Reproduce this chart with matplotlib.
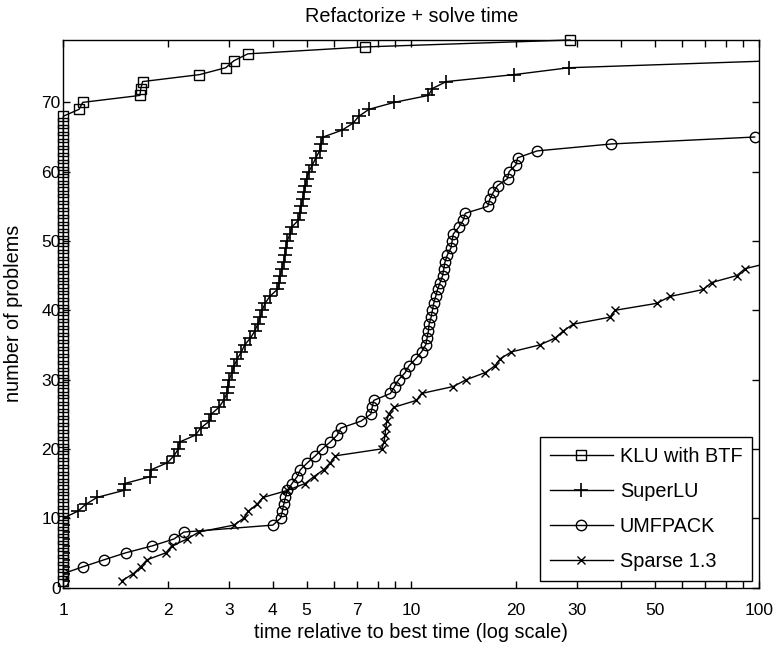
import matplotlib
matplotlib.use("Agg")
import matplotlib.pyplot as plt
from matplotlib.ticker import FixedLocator, NullFormatter, FixedFormatter

plt.rcParams['font.family'] = ['Liberation Sans', 'DejaVu Sans']

# ---- data (time ratio, cumulative number of problems) ----
klu_x = [1.0, 1.0, 1.0, 1.0, 1.0, 1.0, 1.0, 1.0, 1.0, 1.0,
         1.0, 1.0, 1.0, 1.0, 1.0, 1.0, 1.0, 1.0, 1.0, 1.0,
         1.0, 1.0, 1.0, 1.0, 1.0, 1.0, 1.0, 1.0, 1.0, 1.0,
         1.0, 1.0, 1.0, 1.0, 1.0, 1.0, 1.0, 1.0, 1.0, 1.0,
         1.0, 1.0, 1.0, 1.0, 1.0, 1.0, 1.0, 1.0, 1.0, 1.0,
         1.0, 1.0, 1.0, 1.0, 1.0, 1.0, 1.0, 1.0, 1.0, 1.0,
         1.0, 1.0, 1.0, 1.0, 1.0, 1.0, 1.0, 1.0,
         1.11, 1.137, 1.66, 1.67, 1.69, 2.46, 2.93, 3.09, 3.39, 7.36, 28.6]
klu_y = [1, 2, 3, 4, 5, 6, 7, 8, 9, 10, 11, 12, 13, 14, 15, 16, 17, 18, 19, 20,
         21, 22, 23, 24, 25, 26, 27, 28, 29, 30, 31, 32, 33, 34, 35, 36, 37, 38, 39, 40,
         41, 42, 43, 44, 45, 46, 47, 48, 49, 50, 51, 52, 53, 54, 55, 56, 57, 58, 59, 60,
         61, 62, 63, 64, 65, 66, 67, 68, 69, 70, 71, 72, 73, 74, 75, 76, 77, 78, 79]

superlu_x = [1.0, 1.0, 1.0, 1.0, 1.0, 1.0, 1.0, 1.0, 1.0, 1.0,
             1.1, 1.16, 1.25, 1.49, 1.5, 1.78, 1.79, 1.99, 2.08, 2.14,
             2.16, 2.4, 2.48, 2.63, 2.66, 2.8, 2.89, 2.95, 2.97, 3.0,
             3.05, 3.1, 3.16, 3.25, 3.32, 3.45, 3.55, 3.62, 3.68, 3.73,
             3.8, 3.92, 4.12, 4.18, 4.2, 4.25, 4.3, 4.33, 4.36, 4.4,
             4.48, 4.53, 4.74, 4.78, 4.82, 4.87, 4.92, 4.96, 5.0, 5.08,
             5.2, 5.32, 5.45, 5.5, 5.58, 6.33, 6.8, 7.07, 7.56, 8.93,
             11.2, 11.5, 12.6, 19.7, 28.4, 110.0]
superlu_y = [1, 2, 3, 4, 5, 6, 7, 8, 9, 10, 11, 12, 13, 14, 15, 16, 17, 18, 19, 20,
             21, 22, 23, 24, 25, 26, 27, 28, 29, 30, 31, 32, 33, 34, 35, 36, 37, 38, 39, 40,
             41, 42, 43, 44, 45, 46, 47, 48, 49, 50, 51, 52, 53, 54, 55, 56, 57, 58, 59, 60,
             61, 62, 63, 64, 65, 66, 67, 68, 69, 70, 71, 72, 73, 74, 75, 76]

umfpack_x = [1.0, 1.0, 1.14, 1.31, 1.51, 1.8, 2.08, 2.22, 4.0, 4.21,
             4.26, 4.3, 4.35, 4.4, 4.54, 4.7, 4.8, 5.03, 5.3, 5.55,
             5.85, 6.13, 6.27, 7.16, 7.65, 7.72, 7.8, 8.71, 8.95, 9.2,
             9.6, 9.85, 10.3, 10.7, 11.0, 11.1, 11.2, 11.25, 11.4, 11.5,
             11.6, 11.75, 11.9, 12.1, 12.3, 12.4, 12.5, 12.7, 13.0, 13.1,
             13.2, 13.7, 14.1, 14.3, 16.6, 16.8, 17.2, 17.7, 18.9, 19.1,
             20.0, 20.2, 23.0, 37.6, 97.0]
umfpack_y = [1, 2, 3, 4, 5, 6, 7, 8, 9, 10, 11, 12, 13, 14, 15, 16, 17, 18, 19, 20,
             21, 22, 23, 24, 25, 26, 27, 28, 29, 30, 31, 32, 33, 34, 35, 36, 37, 38, 39, 40,
             41, 42, 43, 44, 45, 46, 47, 48, 49, 50, 51, 52, 53, 54, 55, 56, 57, 58, 59, 60,
             61, 62, 63, 64, 65]

sparse_x = [1.475, 1.59, 1.67, 1.74, 1.97, 2.05, 2.27, 2.45, 3.09, 3.3,
            3.4, 3.6, 3.75, 4.4, 4.95, 5.25, 5.6, 5.85, 6.05, 8.22,
            8.35, 8.4, 8.45, 8.5, 8.6, 8.9, 10.34, 10.7, 13.2, 14.4,
            16.3, 17.4, 18.0, 19.4, 23.4, 25.9, 27.3, 29.2, 37.2, 38.5,
            50.7, 55.4, 69.0, 72.9, 86.1, 91.0, 110.0]
sparse_y = [1, 2, 3, 4, 5, 6, 7, 8, 9, 10, 11, 12, 13, 14, 15, 16, 17, 18, 19, 20,
            21, 22, 23, 24, 25, 26, 27, 28, 29, 30, 31, 32, 33, 34, 35, 36, 37, 38, 39, 40,
            41, 42, 43, 44, 45, 46, 47]

labels = ["KLU with BTF", "SuperLU", "UMFPACK", "Sparse 1.3"]
xtick_major = [1, 2, 3, 4, 5, 7, 10, 20, 30, 50, 100]
xtick_labels = ["1", "2", "3", "4", "5", "7", "10", "20", "30", "50", "100"]
xtick_minor = [6, 8, 9, 40, 60, 70, 80, 90]
ytick_vals = [0, 10, 20, 30, 40, 50, 60, 70]

W, H = 778, 653
fig = plt.figure(figsize=(W / 100, H / 100), dpi=100)
ax = fig.add_axes([63.3 / W, 1 - 587.5 / H, (759.3 - 63.3) / W, (587.5 - 40) / H])

fs_tick = 12.5
fs = 14.3
ax.plot(klu_x, klu_y, color='black', lw=1, marker='s', ms=7.5, mfc='none',
        mew=1, clip_on=False, label=labels[0], zorder=3)
ax.plot(superlu_x, superlu_y, color='black', lw=1, marker='+', ms=10,
        mew=1.2, label=labels[1], zorder=3)
ax.plot(umfpack_x, umfpack_y, color='black', lw=1, marker='o', ms=7.5,
        mfc='none', mew=1, label=labels[2], zorder=3)
ax.plot(sparse_x, sparse_y, color='black', lw=1, marker='x', ms=6,
        mew=1, label=labels[3], zorder=3)

ax.set_xscale('log')
ax.set_xlim(1, 100)
ax.set_ylim(0, 79)
ax.xaxis.set_major_locator(FixedLocator(xtick_major))
ax.xaxis.set_major_formatter(FixedFormatter(xtick_labels))
ax.xaxis.set_minor_locator(FixedLocator(xtick_minor))
ax.xaxis.set_minor_formatter(NullFormatter())
ax.yaxis.set_major_locator(FixedLocator(ytick_vals))
ax.yaxis.set_minor_locator(FixedLocator([]))

ax.tick_params(axis='both', which='both', direction='in', top=True, right=True,
               length=5, width=1, labelsize=fs_tick, colors='black')
ax.tick_params(axis='x', which='major', pad=11)
ax.tick_params(axis='y', which='major', pad=2)
for sp in ax.spines.values():
    sp.set_linewidth(1)
    sp.set_color('black')

ax.set_title("Refactorize + solve time", fontsize=fs, pad=13)
ax.set_xlabel("time relative to best time (log scale)", fontsize=fs, labelpad=4)
ax.set_ylabel("number of problems", fontsize=fs, labelpad=13)

leg = ax.legend(loc='lower right', fontsize=fs, frameon=True, fancybox=False,
                edgecolor='black', framealpha=1, borderaxespad=0.35,
                handlelength=3.15, handletextpad=0.36, labelspacing=0.8,
                borderpad=0.5, numpoints=1)
leg.get_frame().set_linewidth(1)

fig.savefig("out.png", dpi=100)
